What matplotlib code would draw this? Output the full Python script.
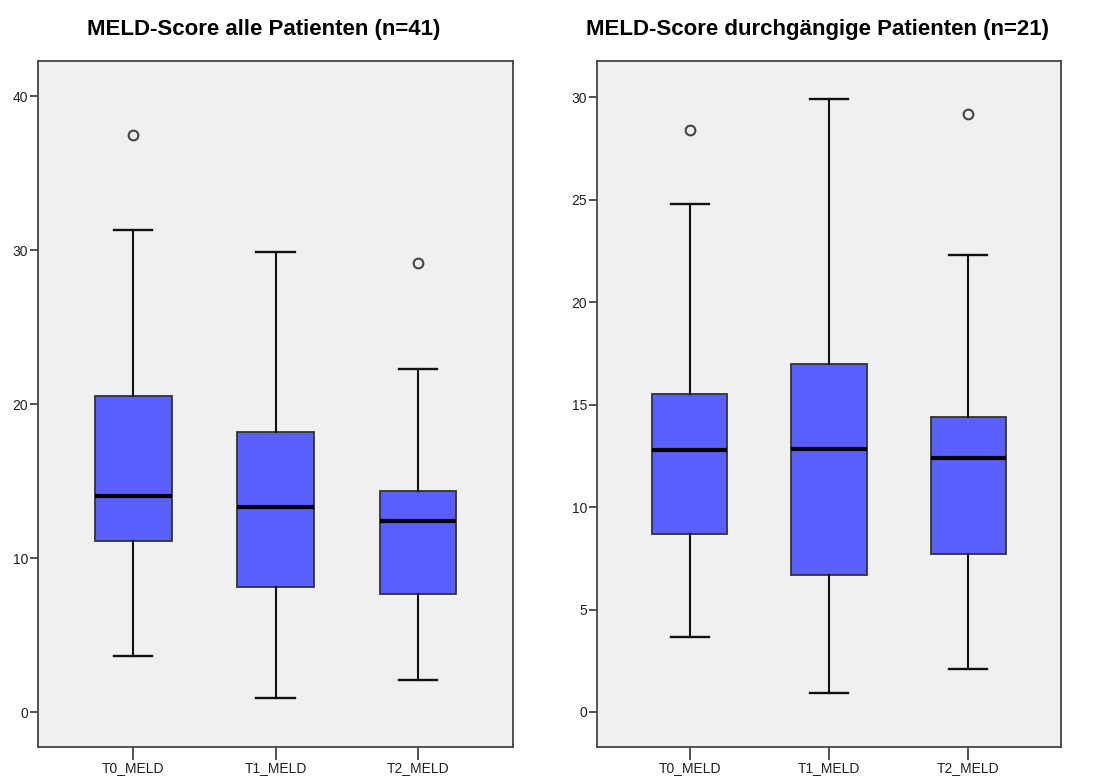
import matplotlib
matplotlib.use("Agg")
import matplotlib.pyplot as plt

# categories on the x axis
categories = ["T0_MELD", "T1_MELD", "T2_MELD"]

# left panel: all patients (n=41)
all_whislo = [3.65, 0.95, 2.1]
all_q1 = [11.1, 8.15, 7.7]
all_med = [14.05, 13.35, 12.4]
all_q3 = [20.55, 18.2, 14.4]
all_whishi = [31.35, 29.9, 22.3]
all_fliers = [[37.5], [], [29.2]]

# right panel: continuous patients (n=21)
cont_whislo = [3.65, 0.95, 2.1]
cont_q1 = [8.7, 6.7, 7.7]
cont_med = [12.8, 12.85, 12.4]
cont_q3 = [15.5, 17.0, 14.4]
cont_whishi = [24.8, 29.9, 22.3]
cont_fliers = [[28.4], [], [29.2]]

BOX_COLOR = "#5a5fff"
EDGE = "#333333"
BG = "#f0f0f0"


def make_stats(lo, q1, med, q3, hi, fliers):
    stats = []
    for i, name in enumerate(categories):
        stats.append(dict(label=name, whislo=lo[i], q1=q1[i], med=med[i],
                          q3=q3[i], whishi=hi[i], fliers=fliers[i]))
    return stats


def draw_panel(ax, stats, title, ylim, yticks):
    ax.bxp(
        stats,
        positions=[1, 2, 3],
        widths=0.54,
        capwidths=0.27,
        patch_artist=True,
        boxprops=dict(facecolor=BOX_COLOR, edgecolor=EDGE, linewidth=1.3),
        medianprops=dict(color="black", linewidth=3),
        whiskerprops=dict(color="#111111", linewidth=1.5),
        capprops=dict(color="#111111", linewidth=1.7),
        flierprops=dict(marker="o", markersize=7, markerfacecolor="none",
                        markeredgecolor="#444444", markeredgewidth=1.5),
    )
    ax.set_facecolor(BG)
    ax.set_xlim(1 - 0.667, 3 + 0.667)
    ax.set_ylim(*ylim)
    ax.set_yticks(yticks)
    ax.set_xticks([1, 2, 3])
    ax.set_xticklabels(categories)
    for sp in ax.spines.values():
        sp.set_color("#444444")
        sp.set_linewidth(1.3)
    ax.tick_params(axis="y", length=6, width=1.3, color="#444444",
                   labelsize=10, labelcolor="#222222", pad=1)
    ax.tick_params(axis="x", length=9, width=1.3, color="#444444",
                   labelsize=10, labelcolor="#222222", pad=1)
    ax.set_title(title, fontsize=16, fontweight="bold", pad=19, x=0.475)


plt.rcParams["font.family"] = ["Liberation Sans", "DejaVu Sans"]

fig = plt.figure(figsize=(10.93, 7.78), dpi=100)
ax1 = fig.add_axes([0.0348, 0.0398, 0.4346, 0.8817])
ax2 = fig.add_axes([0.5462, 0.0398, 0.4245, 0.8817])

draw_panel(ax1, make_stats(all_whislo, all_q1, all_med, all_q3, all_whishi, all_fliers),
           "MELD-Score alle Patienten (n=41)", (-2.26, 42.3), [0, 10, 20, 30, 40])
draw_panel(ax2, make_stats(cont_whislo, cont_q1, cont_med, cont_q3, cont_whishi, cont_fliers),
           "MELD-Score durchgängige Patienten (n=21)", (-1.71, 31.77), [0, 5, 10, 15, 20, 25, 30])

fig.savefig("out.png", dpi=100)
